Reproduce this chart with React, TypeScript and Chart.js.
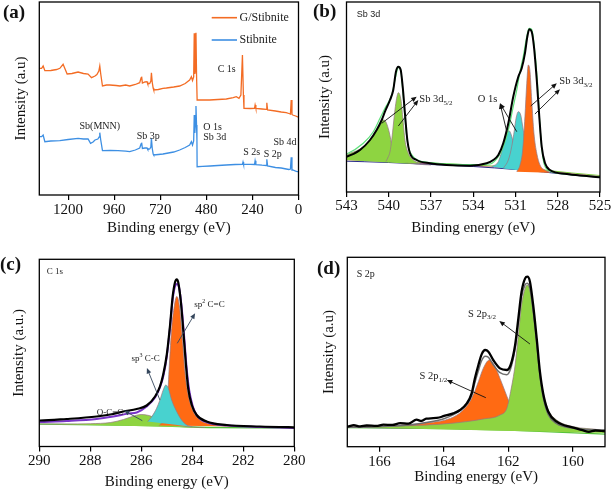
import React, { useEffect, useRef } from 'react';
import { Chart, registerables } from 'chart.js';
Chart.register(...registerables);

type P = [number, number];

// ---------- Panel (a): survey spectra ----------
const A_TICKS = [1200, 960, 720, 480, 240, 0];
const A_G_STIBNITE: P[] = [[1352,126.7],[1338,126.7],[1330,129],[1321,124.3],[1290,124.5],[1260,125.5],[1243,126.7],[1226,130.7],[1205,121],[1180,121.5],[1148,123],[1120,121.5],[1096,121],[1078,117.3],[1060,119],[1050,120.5],[1040,124],[1035,129],[1030,121],[1021,109],[1000,110],[983,110],[950,109.5],[930,109],[900,110],[879,109],[850,110.5],[827,112.3],[820,117],[817,118.3],[813,112],[800,113],[789,113.3],[785,111],[775,111.5],[769,114],[766,122.3],[762,113],[757,107],[754,105],[730,105.5],[706,106.7],[688,107],[650,108],[619,109],[590,111.5],[567,115],[558,118.3],[552,114.5],[546,118],[543,161.7],[540,121],[537,124],[534,162.3],[531,120],[528,95],[500,95],[463,95],[420,95.5],[376,96],[340,97.3],[324,98.3],[310,96.7],[300,100],[292,140],[287,100],[284,86.7],[250,86.5],[229,86.7],[226,90],[222,86.5],[190,86],[168,85.7],[165,92.3],[161,85],[120,84],[90,83],[64,82.3],[50,81.5],[42,81],[38,95],[34,80.5],[30,80],[15,79],[7,78.3],[0,78]];
const A_STIBNITE: P[] = [[1352,58.3],[1338,58.3],[1330,60],[1321,53.3],[1290,54],[1243,54.3],[1200,55.5],[1148,56.7],[1120,56],[1096,56],[1083,51.7],[1070,53],[1060,55],[1045,56],[1038,58],[1035,62.3],[1030,55],[1021,44.3],[980,44.5],[940,44.3],[900,43.8],[879,43.3],[850,45],[827,47],[820,51],[817,52.3],[813,46.5],[800,47],[789,47],[785,45.5],[775,46],[769,48],[766,56.7],[762,47],[757,41],[754,40],[730,40.5],[706,41],[650,43],[619,45],[590,47.5],[567,50],[558,53.3],[552,50],[546,54],[543,80],[540,62],[537,70],[534,89],[531,70],[529,55],[528,28.3],[500,28.6],[460,29],[420,29.5],[377,30],[330,30.5],[292,30.7],[289,33],[286,30.6],[250,30.6],[229,30.5],[226,34.3],[222,30.4],[190,29.8],[168,29.5],[165,35.7],[161,29],[120,27.5],[90,27],[64,26],[50,25.5],[42,26],[38,37.7],[34,25],[30,25],[15,23.8],[7,23.3],[0,23.3]];

// ---------- Panel (b): Sb 3d ----------
const B_TICKS = [543, 540, 537, 534, 531, 528, 525];
const B_RAW: P[] = [[543.3,34.5],[543.0,35.3],[542.04,42],[541.33,52],[540.86,62],[540.50,72],[540.27,80.3],[539.91,92],[539.68,102],[539.49,120.3],[539.32,125.3],[539.15,122],[539.01,105.3],[538.85,78.7],[538.68,52],[538.49,38.7],[538.02,32],[537.07,28.7],[535.89,27],[534.23,26.3],[533.05,28.7],[532.58,32],[532.22,37],[531.87,48.7],[531.51,68.7],[531.16,95.3],[530.80,115.3],[530.56,123.7],[530.33,138.7],[530.16,155.3],[530.02,162.7],[529.85,160.3],[529.69,145.3],[529.49,112],[529.31,75.3],[529.14,45.3],[528.90,28.7],[528.55,22],[527.36,18],[525.94,16],[525.05,14.7],[524.8,14.5]];
const B_FIT: P[] = [[543.3,37],[542.99,38],[541.81,48.7],[541.10,60.3],[540.62,73.7],[540.27,83.7],[539.79,97],[539.56,112],[539.36,123.7],[539.27,124.7],[539.13,120.3],[538.97,95.3],[538.78,62],[538.61,45.3],[538.26,35.3],[537.55,30.3],[534.23,27.3],[532.81,28],[532.22,35.3],[531.87,45.3],[531.51,62],[531.16,85.3],[530.91,102],[530.68,120.3],[530.45,135.3],[530.20,155.3],[530.04,163.7],[529.85,162.7],[529.69,148.7],[529.45,112],[529.26,65.3],[529.03,32],[528.67,22],[527.84,18.7],[525.05,15.3],[524.8,15.2]];
const B_SB52_BROAD: P[] = [[543.4,32.2],[543.0,37],[542.04,43],[541.33,52],[540.86,62],[540.62,68],[540.38,72],[540.20,70],[539.97,60],[539.75,45],[539.49,36],[539.0,31],[538.0,28],[537.0,27]];
const B_SB52_SHARP: P[] = [[540.2,30.5],[540.03,35.3],[539.91,40.3],[539.79,52],[539.56,82],[539.44,93.7],[539.32,99.3],[539.13,92],[539.01,75.3],[538.85,52],[538.61,38.7],[538.26,32],[537.8,28.5]];
const B_O1S_A: P[] = [[532.69,25.3],[532.22,30.3],[531.98,40.3],[531.75,52],[531.58,59.3],[531.46,61.3],[531.34,58.7],[531.20,52],[531.04,42],[530.80,32],[530.45,23.7],[529.97,20.3]];
const B_O1S_B: P[] = [[531.87,23.7],[531.51,32],[531.27,45.3],[531.08,62],[530.96,73.7],[530.80,80.3],[530.63,77],[530.45,62],[530.25,45.3],[530.02,32],[529.62,23.7],[529.14,20.3]];
const B_SB32: P[] = [[530.91,20.3],[530.68,27],[530.49,42],[530.33,75.3],[530.20,108.7],[530.09,127],[529.97,120.3],[529.85,92],[529.69,58.7],[529.49,38.7],[529.26,27],[528.83,21.3],[528.55,19.3]];
const B_BG1: P[] = [[543.5,31],[540,29.5],[537,27.5],[534,25.5],[531,22.5],[529,20],[527,17],[524.8,14.3]];
const B_BG2: P[] = [[543.5,32.5],[540,30.5],[537,28],[534,26],[531,23.5],[529,21],[527,18],[524.8,15.3]];
const B_BG3: P[] = [[543.5,33],[540,31],[537,29],[534,27],[531,24.5],[529,22],[527,19],[524.8,16.2]];

// ---------- Panel (c): C 1s ----------
const C_TICKS = [290, 288, 286, 284, 282, 280];
const C_RAW: P[] = [[290.2,26],[289.97,26],[288.93,27.5],[287.75,30],[287.10,32.5],[286.71,35],[286.18,37.5],[285.79,41],[285.46,50],[285.27,60],[285.14,72],[285.00,92],[284.87,122],[284.77,150],[284.68,164],[284.61,167.2],[284.55,164],[284.45,145],[284.35,115],[284.25,82],[284.16,58],[284.02,41.5],[283.83,31.5],[283.44,25],[282.65,21.5],[281.35,20],[280.04,19.2],[279.8,19.1]];
const C_FIT: P[] = [[290.2,24.5],[289.97,24.5],[288.93,25.5],[287.75,27.5],[287.10,30],[286.50,33],[286.18,34],[285.79,40],[285.46,49],[285.27,59],[285.14,70],[285.00,90],[284.87,120],[284.77,147],[284.68,160],[284.60,162.5],[284.52,159],[284.42,140],[284.32,110],[284.22,78],[284.12,56],[283.98,40],[283.79,30],[283.40,24],[282.60,21],[281.3,19.5],[280.0,18.5],[279.8,18.4]];
const C_OCC: P[] = [[290.3,22.6],[289,22.5],[288,22.8],[287.2,24],[286.7,27],[286.35,30],[286.0,32],[285.7,31],[285.4,28],[285.0,24.5],[284.6,21.5],[284.0,19.5],[283.5,19]];
const C_SP3: P[] = [[285.75,25],[285.59,29.8],[285.40,38.2],[285.27,46.5],[285.14,56.5],[285.04,61.5],[284.94,58.2],[284.81,46.5],[284.61,34.8],[284.42,26.5],[284.22,21.5],[284.0,19.8]];
const C_SP2: P[] = [[285.3,21],[285.1,28],[284.98,45],[284.90,81.5],[284.81,118],[284.72,138],[284.61,150],[284.51,141.5],[284.38,105],[284.29,75],[284.16,51.5],[283.96,35],[283.70,26.5],[283.18,22.2],[282.65,20.8],[282.0,20]];
const C_BG: P[] = [[290.3,22.5],[287,21.5],[285,20.5],[284,19.5],[283,19],[280,18.5],[279.8,18.4]];

// ---------- Panel (d): S 2p ----------
const D_TICKS = [166, 164, 162, 160];
const D_RAW: P[] = [[167.2,20.3],[167.0,20],[166.8,21.5],[166.6,20.3],[166.4,21.2],[166.1,20.8],[165.88,22],[165.6,21.8],[165.36,23.5],[165.1,23],[164.85,27],[164.7,25.8],[164.55,28],[164.33,28.5],[164.15,29.2],[164.02,30.5],[163.71,33.3],[163.50,36.7],[163.29,43.3],[163.14,53.3],[163.04,68.3],[162.93,81.7],[162.83,92.3],[162.72,96.7],[162.62,95],[162.47,86.7],[162.26,78.3],[162.05,76.7],[161.93,81.7],[161.79,101.7],[161.69,128.3],[161.59,155],[161.48,168.3],[161.41,170],[161.33,165],[161.23,141.7],[161.12,108.3],[161.02,75],[160.91,51.7],[160.76,35],[160.50,25],[159.98,19],[159.7,16.5],[159.5,14.8],[159.3,16.2],[159.0,15.7],[158.8,15.5]];
const D_FIT: P[] = [[167.2,19.5],[167,19.5],[166,20],[165,22],[164.5,24.5],[164,28],[163.7,32],[163.5,36],[163.3,42],[163.14,51],[163.04,64],[162.93,76],[162.83,86],[162.72,90.5],[162.62,89.5],[162.47,82],[162.26,74],[162.05,72],[161.93,78],[161.79,98],[161.69,124],[161.59,150],[161.48,162],[161.41,163.5],[161.33,158],[161.23,136],[161.12,103],[161.02,71],[160.91,48],[160.76,32],[160.50,23],[159.98,18.5],[159.0,16.5],[158.8,16.4]];
const D_S12: P[] = [[167.2,19.7],[166,20.5],[165.36,21.7],[164.5,24],[163.80,28.3],[163.40,36.7],[163.14,48.3],[162.93,65],[162.78,78.3],[162.59,86.7],[162.41,80],[162.26,68.3],[162.10,55],[162.00,46.7],[161.85,36.7],[161.64,29],[161.23,25],[160.2,20],[159.8,18.5]];
const D_S32: P[] = [[167.2,19.7],[165.36,20.7],[163.80,23.3],[162.78,27.7],[162.26,31.7],[162.05,38.3],[161.93,55],[161.79,81.7],[161.69,111.7],[161.59,141.7],[161.48,158.3],[161.41,161.7],[161.33,156.7],[161.23,135],[161.12,105],[161.02,75],[160.89,50],[160.76,36.7],[160.50,26.7],[159.98,20],[159.15,16.7],[158.8,13.5]];
const D_BG1: P[] = [[167.2,19.5],[165,18.8],[163,18],[161,16.8],[158.8,15]];
const D_BG2: P[] = [[167.2,19],[164,18],[162,16.5],[160.5,14.5],[158.8,12.3]];

// ---------- colours ----------
const ORANGE_LINE = '#f36c24';
const BLUE_LINE = '#3d8fe3';
const GREEN_FILL = '#8ed441';
const CYAN_FILL = '#48d2cf';
const ORANGE_FILL = '#ff6a13';
const OUTLINE = 'rgba(150,120,130,0.9)';
const SERIF = '"Liberation Serif", "Times New Roman", serif';
const SANS = '"Liberation Sans", Arial, sans-serif';

const pts = (a: P[]) => a.map(([x, y]) => ({ x, y }));

type Txt = { x: number; y: number; parts: [string, number][]; size: number; family?: string; align?: 'left' | 'center'; color?: string };
type Arrow = [number, number, number, number];
type Deco = { letter: string; lx: number; ly: number; texts: Txt[]; arrows: Arrow[]; arrowColor?: string; legend?: boolean };

function drawRich(ctx: CanvasRenderingContext2D, x: number, y: number, t: Txt) {
  const fam = t.family || SERIF;
  const fontFor = (k: number) => `${k === 0 ? t.size : Math.round(t.size * 0.68)}px ${fam}`;
  let total = 0;
  for (const [s, k] of t.parts) { ctx.font = fontFor(k); total += ctx.measureText(s).width; }
  let cx = t.align === 'center' ? x - total / 2 : x;
  ctx.fillStyle = t.color || '#222';
  ctx.textAlign = 'left';
  ctx.textBaseline = 'middle';
  for (const [s, k] of t.parts) {
    ctx.font = fontFor(k);
    const dy = k === 1 ? t.size * 0.32 : k === 2 ? -t.size * 0.35 : 0;
    ctx.fillText(s, cx, y + dy);
    cx += ctx.measureText(s).width;
  }
}

function makeDeco(d: Deco) {
  return {
    id: 'deco',
    afterDraw(chart: any) {
      const ctx: CanvasRenderingContext2D = chart.ctx;
      const a = chart.chartArea;
      const xs = chart.scales.x, ys = chart.scales.y;
      ctx.save();
      ctx.strokeStyle = '#000';
      ctx.lineWidth = 1.3;
      ctx.strokeRect(a.left, a.top, a.right - a.left, a.bottom - a.top);
      // arrows
      const col = d.arrowColor || '#111';
      for (const ar of d.arrows) {
        const x1 = xs.getPixelForValue(ar[0]), y1 = ys.getPixelForValue(ar[1]);
        const x2 = xs.getPixelForValue(ar[2]), y2 = ys.getPixelForValue(ar[3]);
        const ang = Math.atan2(y2 - y1, x2 - x1);
        const hl = 5.5, hw = 2.4;
        ctx.strokeStyle = col; ctx.fillStyle = col; ctx.lineWidth = 0.9;
        ctx.beginPath();
        ctx.moveTo(x1, y1);
        ctx.lineTo(x2 - Math.cos(ang) * hl * 0.8, y2 - Math.sin(ang) * hl * 0.8);
        ctx.stroke();
        ctx.beginPath();
        ctx.moveTo(x2, y2);
        ctx.lineTo(x2 - Math.cos(ang) * hl - Math.sin(ang) * hw, y2 - Math.sin(ang) * hl + Math.cos(ang) * hw);
        ctx.lineTo(x2 - Math.cos(ang) * hl + Math.sin(ang) * hw, y2 - Math.sin(ang) * hl - Math.cos(ang) * hw);
        ctx.closePath();
        ctx.fill();
      }
      for (const t of d.texts) {
        drawRich(ctx, xs.getPixelForValue(t.x), ys.getPixelForValue(t.y), t);
      }
      if (d.legend) {
        const ds = chart.data.datasets;
        const rows = [ds[0], ds[1]];
        rows.forEach((r: any, i: number) => {
          const yy = a.top + 15.7 + i * 22.3;
          ctx.strokeStyle = r.borderColor;
          ctx.lineWidth = 1.6;
          ctx.beginPath();
          ctx.moveTo(a.right - 86.8, yy);
          ctx.lineTo(a.right - 61.5, yy);
          ctx.stroke();
          ctx.fillStyle = '#222';
          ctx.font = `12px ${SERIF}`;
          ctx.textAlign = 'left';
          ctx.textBaseline = 'middle';
          ctx.fillText(r.label, a.right - 59, yy);
        });
      }
      ctx.fillStyle = '#111';
      ctx.font = `bold 19px ${SERIF}`;
      ctx.textAlign = 'left';
      ctx.textBaseline = 'middle';
      ctx.fillText(d.letter, d.lx, d.ly);
      ctx.restore();
    },
  };
}

type Spec = {
  w: number; h: number; left: number; top: number;
  min: number; max: number; ticks: number[]; yMax: number;
  padTop: number; padRight: number; yW: number; xH: number;
  tickPad: number; xTitlePad: number; yTitlePad: number; yTitle: string;
  datasets: any[]; deco: Deco;
};

function line(label: string, data: P[], color: string, width: number, smooth = true): any {
  return {
    label, data: pts(data), borderColor: color, borderWidth: width, fill: false,
    pointRadius: 0, cubicInterpolationMode: smooth ? 'monotone' : 'default', tension: 0,
  };
}
function comp(label: string, data: P[], fillColor: string): any {
  return {
    label, data: pts(data), borderColor: OUTLINE, borderWidth: 0.8, backgroundColor: fillColor,
    fill: 'shape', pointRadius: 0, cubicInterpolationMode: 'monotone',
  };
}

function makeConfig(p: Spec): any {
  const font = { family: SERIF, size: 15 };
  return {
    type: 'line',
    data: { datasets: p.datasets },
    options: {
      animation: false,
      responsive: false,
      maintainAspectRatio: false,
      events: [],
      layout: { padding: { top: p.padTop, right: p.padRight, left: 0, bottom: 0 } },
      plugins: { legend: { display: false }, tooltip: { enabled: false } },
      elements: { point: { radius: 0 } },
      scales: {
        x: {
          type: 'linear', reverse: true, min: p.min, max: p.max,
          afterBuildTicks: (s: any) => { s.ticks = p.ticks.map((v) => ({ value: v })); },
          afterFit: (s: any) => { s.height = p.xH; s.paddingLeft = 0; s.paddingRight = 0; },
          ticks: { font, color: '#111', padding: p.tickPad, maxRotation: 0, autoSkip: false, callback: (v: any) => String(v) },
          grid: { display: true, drawOnChartArea: false, drawTicks: true, tickLength: 5, color: '#000', lineWidth: 1.2 },
          border: { display: false },
          title: { display: true, text: 'Binding energy (eV)', font, color: '#111', padding: { top: 0, bottom: p.xTitlePad } },
        },
        y: {
          type: 'linear', min: 0, max: p.yMax,
          afterFit: (s: any) => { s.width = p.yW; s.paddingTop = 0; s.paddingBottom = 0; },
          ticks: { display: false },
          grid: { display: false },
          border: { display: false },
          title: { display: true, text: p.yTitle, font, color: '#111', padding: { top: p.yTitlePad, bottom: 0 } },
        },
      },
    },
    plugins: [makeDeco(p.deco)],
  };
}

const SPECS: Spec[] = [
  {
    w: 306, h: 245, left: 0, top: 0, min: 0, max: 1350, ticks: A_TICKS, yMax: 193,
    padTop: 2, padRight: 7.5, yW: 39.3, xH: 50, tickPad: 1, xTitlePad: 8, yTitlePad: 12, yTitle: 'Intensity (a.u)',
    datasets: [
      line('G/Stibnite', A_G_STIBNITE, ORANGE_LINE, 1.3, false),
      line('Stibnite', A_STIBNITE, BLUE_LINE, 1.3, false),
    ],
    deco: {
      letter: '(a)', lx: 3, ly: 13, legend: true, arrows: [],
      texts: [
        { x: 1035, y: 68.3, parts: [['Sb(MNN)', 0]], size: 10, align: 'center' },
        { x: 783, y: 59, parts: [['Sb 3p', 0]], size: 10, align: 'center' },
        { x: 374, y: 126, parts: [['C 1s', 0]], size: 10, align: 'center' },
        { x: 496, y: 67.7, parts: [['O 1s', 0]], size: 10 },
        { x: 496, y: 57.3, parts: [['Sb 3d', 0]], size: 10 },
        { x: 244, y: 42.3, parts: [['S 2s', 0]], size: 10, align: 'center' },
        { x: 134, y: 41, parts: [['S 2p', 0]], size: 10, align: 'center' },
        { x: 70, y: 52.3, parts: [['Sb 4d', 0]], size: 10, align: 'center' },
      ],
    },
  },
  {
    w: 307, h: 245, left: 306, top: 0, min: 525, max: 543, ticks: B_TICKS, yMax: 190,
    padTop: 2, padRight: 13, yW: 40.5, xH: 53, tickPad: 0, xTitlePad: 8, yTitlePad: 10.5, yTitle: 'Intensity (a.u)',
    datasets: [
      line('raw', B_RAW, '#000', 2),
      line('fit', B_FIT, '#5ee07a', 1.2),
      comp('Sb 3d3/2', B_SB32, ORANGE_FILL),
      comp('O 1s b', B_O1S_B, CYAN_FILL),
      comp('O 1s a', B_O1S_A, CYAN_FILL),
      comp('Sb 3d5/2 sharp', B_SB52_SHARP, GREEN_FILL),
      comp('Sb 3d5/2 broad', B_SB52_BROAD, GREEN_FILL),
      line('bg1', B_BG1, '#2a2a8a', 1),
      line('bg2', B_BG2, '#d98080', 1),
      line('bg3', B_BG3, '#7acb3c', 1),
    ],
    deco: {
      letter: '(b)', lx: 7, ly: 11.7,
      texts: [
        { x: 542.28, y: 177, parts: [['Sb 3d', 0]], size: 9, family: SANS },
        { x: 537.83, y: 92.7, parts: [['Sb 3d', 0], ['5/2', 1]], size: 10.5 },
        { x: 527.89, y: 110.3, parts: [['Sb 3d', 0], ['3/2', 1]], size: 10.5 },
        { x: 532.99, y: 92.7, parts: [['O 1s', 0]], size: 10.5, align: 'center' },
      ],
      arrows: [
        [540.50, 68.7, 538.02, 95.3],
        [539.32, 66, 537.90, 92],
        [529.92, 86, 528.07, 108.7],
        [529.62, 78, 527.84, 102.7],
        [531.62, 60.3, 532.10, 88.7],
        [530.91, 60.3, 532.10, 88.7],
      ],
    },
  },
  {
    w: 306, h: 250, left: 0, top: 245, min: 280, max: 290, ticks: C_TICKS, yMax: 187.2,
    padTop: 14.3, padRight: 11.7, yW: 39.3, xH: 48.5, tickPad: 1, xTitlePad: 3.5, yTitlePad: 10, yTitle: 'Intensity (a.u.)',
    datasets: [
      line('raw', C_RAW, '#000', 2.2),
      line('fit', C_FIT, '#7a35c8', 2),
      comp('sp3 C-C', C_SP3, CYAN_FILL),
      comp('sp2 C=C', C_SP2, ORANGE_FILL),
      comp('O-C=C', C_OCC, GREEN_FILL),
      line('bg', C_BG, '#55c23a', 1.3),
    ],
    deco: {
      letter: '(c)', lx: 0, ly: 20,
      texts: [
        { x: 289.71, y: 174.8, parts: [['C 1s', 0]], size: 9 },
        { x: 286.38, y: 87.5, parts: [['sp', 0], ['3', 2], [' C-C', 0]], size: 9 },
        { x: 287.75, y: 33.8, parts: [['O-C=C', 0]], size: 9 },
        { x: 283.92, y: 141.5, parts: [['sp', 0], ['2', 2], [' C=C', 0]], size: 9 },
      ],
      arrowColor: '#34465c',
      arrows: [
        [285.27, 46.5, 285.78, 78.5],
        [285.96, 25.8, 286.68, 36],
        [284.59, 103.2, 283.89, 133.2],
      ],
    },
  },
  {
    w: 307, h: 250, left: 306, top: 245, min: 159, max: 167, ticks: D_TICKS, yMax: 189.4,
    padTop: 12.3, padRight: 8, yW: 41.3, xH: 48.3, tickPad: 1, xTitlePad: 8.5, yTitlePad: 14, yTitle: 'Intensity (a.u)',
    datasets: [
      line('raw', D_RAW, '#000', 2.3),
      line('fit', D_FIT, '#6d6d6d', 1.5),
      comp('S 2p3/2', D_S32, GREEN_FILL),
      comp('S 2p1/2', D_S12, ORANGE_FILL),
      line('bg1', D_BG1, '#5a3a9a', 1.2),
      line('bg2', D_BG2, '#55c23a', 1.2),
    ],
    deco: {
      letter: '(d)', lx: 11, ly: 24.5,
      texts: [
        { x: 166.71, y: 172.7, parts: [['S 2p', 0]], size: 10 },
        { x: 163.25, y: 132.7, parts: [['S 2p', 0], ['3/2', 1]], size: 10.5 },
        { x: 164.76, y: 70, parts: [['S 2p', 0], ['1/2', 1]], size: 10.5 },
      ],
      arrows: [
        [161.33, 102.7, 162.28, 125.7],
        [162.70, 49, 163.91, 66.7],
      ],
    },
  },
];

function Panel({ spec }: { spec: Spec }) {
  const ref = useRef<HTMLCanvasElement | null>(null);
  useEffect(() => {
    if (!ref.current) return;
    const chart = new Chart(ref.current, makeConfig(spec));
    return () => chart.destroy();
  }, [spec]);
  return (
    <canvas
      ref={ref}
      width={spec.w}
      height={spec.h}
      style={{ position: 'absolute', left: spec.left, top: spec.top, width: spec.w, height: spec.h, display: 'block' }}
    />
  );
}

export default function App() {
  return (
    <div style={{ position: 'absolute', left: 0, top: 0, width: 613, height: 495, background: '#fff', overflow: 'hidden' }}>
      {SPECS.map((s, i) => <Panel key={i} spec={s} />)}
    </div>
  );
}
